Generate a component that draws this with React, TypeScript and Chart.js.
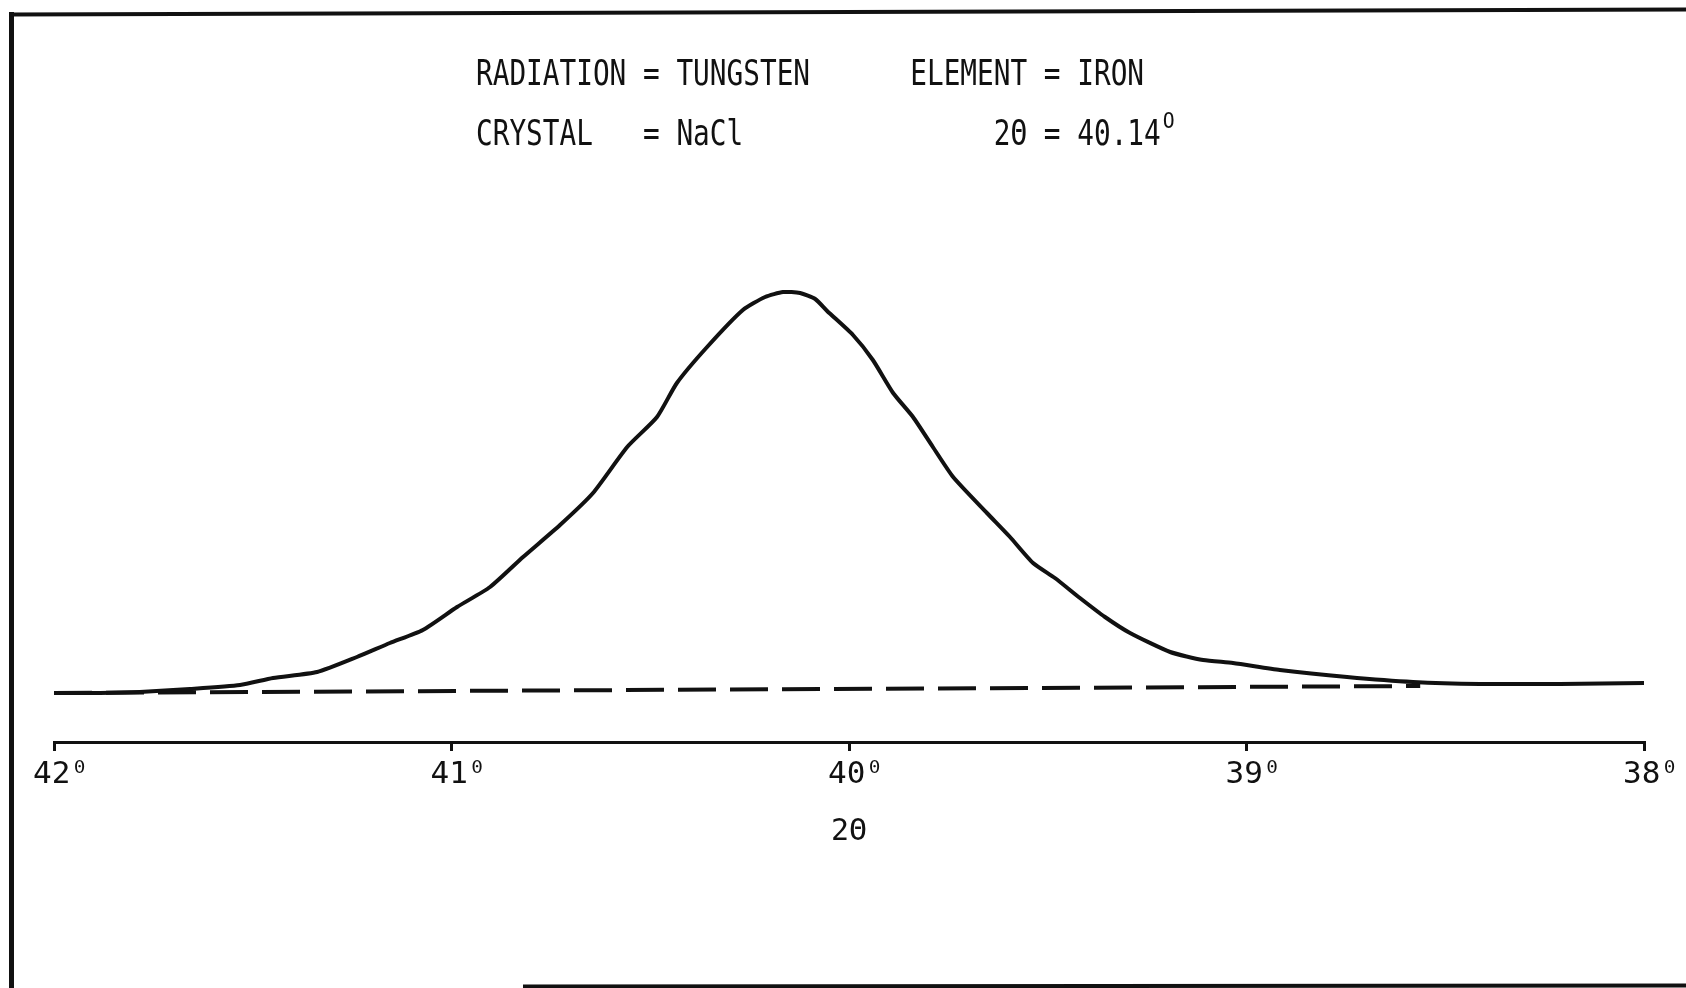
import React, { useEffect, useRef } from "react";
import { Chart, registerables } from "chart.js";

Chart.register(...registerables);

// ---- data (2θ in degrees, intensity in arbitrary units) ----
const twoTheta = [
  42.0, 41.884, 41.784, 41.658, 41.532, 41.449, 41.338, 41.238, 41.155, 41.072,
  40.986, 40.903, 40.82, 40.727, 40.644, 40.558, 40.483, 40.433, 40.357, 40.267,
  40.211, 40.166, 40.123, 40.085, 40.055, 39.99, 39.94, 39.889, 39.839, 39.789,
  39.738, 39.653, 39.595, 39.537, 39.482, 39.419, 39.356, 39.293, 39.192, 39.109,
  39.034, 38.916, 38.747, 38.581, 38.413, 38.211, 38.0,
];
const intensity = [
  0.5, 0.5, 0.75, 1.5, 2.5, 4.25, 5.75, 9.5, 13, 16.25,
  22, 27, 34.5, 42.5, 50.5, 62, 69.5, 78, 87, 96.25,
  99.5, 100.75, 100.5, 99, 96, 90, 83.75, 75.5, 69.5, 62,
  54.5, 45.5, 39.5, 33, 29.25, 24.25, 19.5, 15.5, 10.75, 8.75,
  8, 6.25, 4.5, 3.25, 2.75, 2.75, 3,
];
const baselineTheta = [42.0, 38.563];
const baselineIntensity = [0.5, 2.25];

const tickValues = [42, 41, 40, 39, 38];
const tickLabels = ["42⁰", "41⁰", "40⁰", "39⁰", "38⁰"];
const axisTitle = "2Θ";

const headerLine1 = "RADIATION = TUNGSTEN      ELEMENT = IRON";
const headerLine2 = "CRYSTAL   = NaCl               2Θ = 40.14";
const headerSup = "O";

const INK = "#111111";
const MONO = "'DejaVu Sans Mono', 'Liberation Mono', monospace";

const decorPlugin = {
  id: "decor",
  afterDraw(chart: any) {
    const ctx = chart.ctx as CanvasRenderingContext2D;
    ctx.save();
    // frame lines
    ctx.strokeStyle = INK;
    ctx.lineCap = "square";
    ctx.lineWidth = 5;
    ctx.beginPath();
    ctx.moveTo(11.5, 14.5);
    ctx.lineTo(11.5, 990);
    ctx.stroke();
    ctx.lineWidth = 4;
    ctx.beginPath();
    ctx.moveTo(11.5, 14.5);
    ctx.lineTo(1690, 9.5);
    ctx.stroke();
    ctx.beginPath();
    ctx.moveTo(525, 986.5);
    ctx.lineTo(1690, 985.5);
    ctx.stroke();

    // header text (condensed monospace)
    const adv = 16.7;
    const size = 35;
    const sx = adv / (size * 0.602);
    ctx.fillStyle = INK;
    ctx.textBaseline = "alphabetic";
    ctx.textAlign = "left";
    ctx.font = `${size}px ${MONO}`;
    const drawScaled = (txt: string, x: number, y: number, s: number) => {
      ctx.save();
      ctx.translate(x, y);
      ctx.scale(s, 1);
      ctx.fillText(txt, 0, 0);
      ctx.restore();
    };
    const x0 = 476;
    drawScaled(headerLine1, x0, 85, sx);
    drawScaled(headerLine2, x0, 145, sx);
    ctx.font = `22px ${MONO}`;
    drawScaled(headerSup, x0 + headerLine2.length * adv + 2, 128, 0.9);
    ctx.restore();
  },
};

export default function App() {
  const ref = useRef<HTMLCanvasElement | null>(null);

  useEffect(() => {
    if (!ref.current) return;
    const curve = twoTheta.map((x, i) => ({ x, y: intensity[i] }));
    const base = baselineTheta.map((x, i) => ({ x, y: baselineIntensity[i] }));
    const chart = new Chart(ref.current, {
      type: "line",
      data: {
        datasets: [
          {
            data: curve,
            borderColor: INK,
            borderWidth: 4,
            pointRadius: 0,
            tension: 0.2,
            fill: false,
            clip: false as any,
          },
          {
            data: base,
            borderColor: INK,
            borderWidth: 4,
            borderDash: [38, 14],
            pointRadius: 0,
            tension: 0,
            fill: false,
            clip: false as any,
          },
        ],
      },
      options: {
        responsive: false,
        animation: false,
        layout: { padding: { top: 255, left: 54, right: 42, bottom: 136 } },
        plugins: { legend: { display: false }, tooltip: { enabled: false }, title: { display: false } },
        scales: {
          x: {
            type: "linear",
            reverse: true,
            min: 38,
            max: 42,
            afterBuildTicks: (scale: any) => {
              scale.ticks = tickValues.map((v) => ({ value: v }));
            },
            afterFit: (scale: any) => {
              scale.height = 110;
            },
            ticks: {
              color: INK,
              font: { family: MONO, size: 31 },
              padding: 5,
              labelOffset: 7,
              maxRotation: 0,
              autoSkip: false,
              callback: (v: any) => {
                const i = tickValues.indexOf(Number(v));
                return i >= 0 ? tickLabels[i] : "";
              },
            },
            grid: {
              display: true,
              drawOnChartArea: false,
              drawTicks: true,
              tickLength: 9,
              color: INK,
              lineWidth: 3,
            },
            border: { display: true, color: INK, width: 3 },
            title: {
              display: true,
              text: axisTitle,
              color: INK,
              font: { family: MONO, size: 30 },
              padding: { top: 0, bottom: 2 },
            },
          },
          y: {
            display: false,
            min: -11.75,
            max: 110,
          },
        },
      },
      plugins: [decorPlugin],
    });
    return () => chart.destroy();
  }, []);

  return (
    <div style={{ position: "fixed", left: 0, top: 0, width: 1686, height: 988, background: "#fff" }}>
      <canvas ref={ref} width={1686} height={988} style={{ display: "block" }} />
    </div>
  );
}
